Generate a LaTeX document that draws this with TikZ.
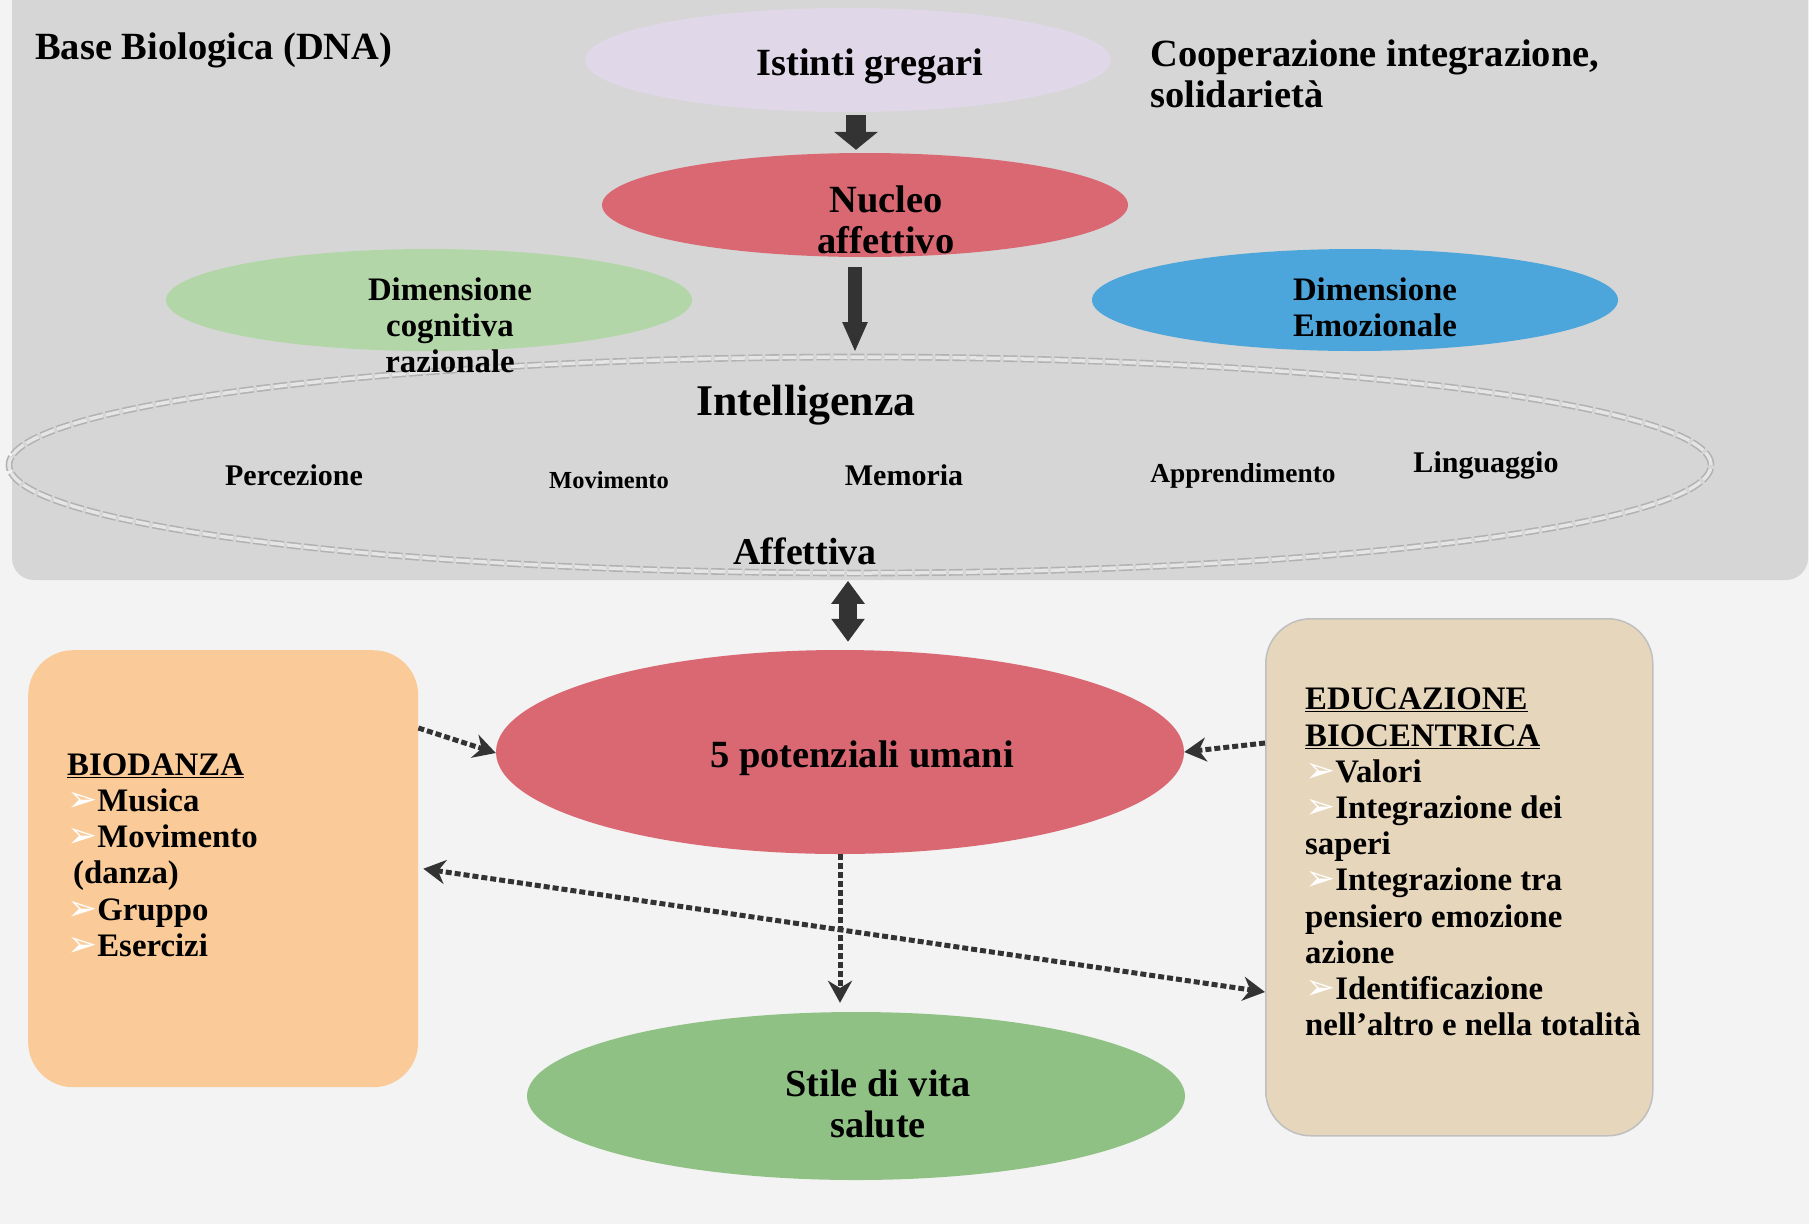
\documentclass[tikz,border=0pt]{standalone}
\usepackage{fontspec}
\setmainfont{Liberation Serif}
\newfontfamily\dejavu{DejaVu Sans}
\usetikzlibrary{shapes.geometric,arrows.meta}
\definecolor{bgc}{HTML}{F3F3F3}
\definecolor{panelc}{HTML}{D6D6D6}
\definecolor{lavc}{HTML}{E0D8E9}
\definecolor{redc}{HTML}{D96873}
\definecolor{cogc}{HTML}{B3D6A8}
\definecolor{emoc}{HTML}{4DA6DB}
\definecolor{stilc}{HTML}{8FC184}
\definecolor{bioc}{HTML}{FACB98}
\definecolor{educ}{HTML}{E6D6BC}
\definecolor{dk}{HTML}{333333}
\newcommand{\bul}{\raisebox{0pt}[0pt][0pt]{\dejavu\fontsize{36}{36}\selectfont\textcolor{white}{➢}}}
\newcommand{\fsA}{\fontsize{38.5}{41.5}\selectfont}
\newcommand{\fsB}{\fontsize{32.8}{36.2}\selectfont}
\begin{document}
\begin{tikzpicture}[x=1pt,y=-1pt,
  >={Stealth[length=22pt,width=24pt]},
  ell/.style={ellipse, inner sep=0pt, draw=none},
  txt/.style={inner sep=0pt, align=center, font=\bfseries\fsA},
  blkarrow/.style={draw=dk, line width=#1},
  dasharrow/.style={draw=dk, line width=5pt, dash pattern=on 6pt off 3pt}]
\useasboundingbox (0,0) rectangle (1809,1224);
\fill[bgc] (0,0) rectangle (1809,1224);
\fill[panelc, rounded corners=22pt] (12,-40) rectangle (1808,580);

% ellipses
\node[ell, fill=lavc, minimum width=526pt, minimum height=104pt] (ist) at (848,60) {};
\node[ell, fill=redc, minimum width=526pt, minimum height=104pt] (nuc) at (865,205) {};
\node[ell, fill=cogc, minimum width=526pt, minimum height=102pt] (cog) at (429,300) {};
\node[ell, fill=emoc, minimum width=526pt, minimum height=102pt] (emo) at (1355,300) {};
\node[ell, draw=gray!60, line width=1.6pt, double=gray!20, double distance=3.5pt,
      dash pattern=on 14pt off 3pt, minimum width=1702pt, minimum height=216pt] (intel) at (860,465) {};
\node[ell, fill=redc, minimum width=688pt, minimum height=204pt] (pot) at (840,752) {};
\node[ell, fill=stilc, minimum width=658pt, minimum height=168pt] (stile) at (856,1096) {};

% boxes
\node[fill=bioc, rounded corners=45pt, minimum width=390pt, minimum height=437pt, anchor=north west, inner sep=0pt] (bio) at (28,650) {};
\node[fill=educ, draw=gray!50, line width=1.5pt, rounded corners=45pt, minimum width=387pt, minimum height=517pt, anchor=north west, inner sep=0pt] (edu) at (1265,618) {};

% texts
\node[txt, anchor=west] (base) at (35,50) {Base Biologica (DNA)};
\node[txt] (istT) at (870,66) {Istinti gregari};
\node[txt, anchor=west, align=left] (coop) at (1150,74) {Cooperazione integrazione,\\solidarietà};
\node[txt] (nucT) at (886,220) {Nucleo\\affettivo};
\node[txt, font=\bfseries\fsB] (cogT) at (450,325) {Dimensione\\cognitiva\\razionale};
\node[txt, font=\bfseries\fsB] (emoT) at (1375,307) {Dimensione\\Emozionale};
\node[txt, font=\bfseries\fontsize{43.8}{46}\selectfont] (intT) at (806,405) {Intelligenza};
\node[txt, font=\bfseries\fontsize{30}{32}\selectfont] (perc) at (294,475) {Percezione};
\node[txt, font=\bfseries\fontsize{24.5}{26}\selectfont] (movi) at (609,480) {Movimento};
\node[txt, font=\bfseries\fontsize{30}{32}\selectfont] (memo) at (904,475) {Memoria};
\node[txt, font=\bfseries\fontsize{27.4}{30}\selectfont] (appr) at (1243,476) {Apprendimento};
\node[txt, font=\bfseries\fontsize{30}{32}\selectfont] (ling) at (1486,465) {Linguaggio};
\node[txt, font=\bfseries\fontsize{37.9}{40}\selectfont] (affe) at (805,551) {Affettiva};
\node[txt] (potT) at (862,758) {5 potenziali umani};
\node[txt, font=\bfseries\fontsize{38.3}{40.5}\selectfont] (stilT) at (878,1104) {Stile di vita\\salute};
\node[txt, font=\bfseries\fsB, align=left, anchor=west] (bioT) at (67,855)
  {\underline{BIODANZA}\\\bul Musica\\\bul Movimento\\\hspace*{6pt}(danza)\\\bul Gruppo\\\bul Esercizi};
\node[txt, font=\bfseries\fsB, align=left, anchor=west] (eduT) at (1305,862)
  {\underline{EDUCAZIONE}\\\underline{BIOCENTRICA}\\\bul Valori\\\bul Integrazione dei\\saperi\\\bul Integrazione tra\\pensiero emozione\\azione\\\bul Identificazione\\nell’altro e nella totalità};

% connectors
\coordinate (a1) at (856,0);
\coordinate (a2) at (855,0);
\coordinate (a3) at (848,0);
\coordinate (a4) at (840,0);
\draw[blkarrow=20pt, -{Triangle[length=18pt,width=43pt]}, shorten <=3pt, shorten >=3pt]
  (a1 |- ist.south) -- (a1 |- nuc.north);
\draw[blkarrow=14pt, -{Triangle[length=30pt,width=23pt]}, shorten <=10pt, shorten >=4pt]
  (a2 |- nuc.south) -- (a2 |- intel.north);
\draw[blkarrow=18pt, {Triangle[length=23pt,width=32pt]}-{Triangle[length=23pt,width=32pt]}, shorten <=7pt, shorten >=8pt]
  (a3 |- intel.south) -- (a3 |- pot.north);
\draw[dasharrow, ->] (bio.east |- 0,728) -- (pot.west |- 0,753);
\draw[dasharrow, ->] (edu.west |- 0,743) -- (pot.east);
\draw[dasharrow, ->, shorten >=9pt] (a4 |- pot.south) -- (a4 |- stile.north);
\draw[dasharrow, <->, shorten <=5pt] (bio.east |- 0,868) -- (edu.west |- 0,992);
\end{tikzpicture}
\end{document}
